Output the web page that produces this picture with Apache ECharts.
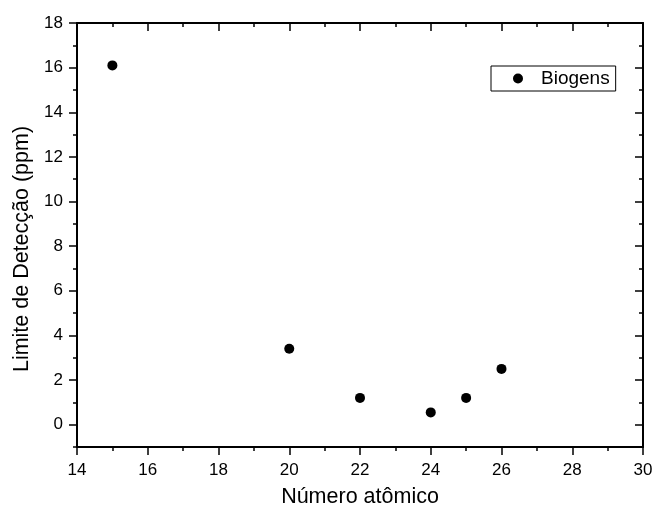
<!DOCTYPE html>
<html><head><meta charset="utf-8">
<script src="https://cdn.jsdelivr.net/npm/echarts@6/dist/echarts.min.js"></script>
<style>html,body{margin:0;padding:0;background:#fff}#c{width:655px;height:513px}</style>
</head><body><div id="c"></div>
<script>
const atomicNumbers = [15, 20, 22, 24, 25, 26];
const detectionLimits = [16.1, 3.4, 1.2, 0.55, 1.2, 2.5];
const seriesName = 'Biogens';
const xTitle = 'Número atômico';
const yTitle = 'Limite de Detecção (ppm)';
const yMajorTicks = [0, 2, 4, 6, 8, 10, 12, 14, 16, 18];
const yMinorTicks = [-1, 1, 3, 5, 7, 9, 11, 13, 15, 17];

const font = 'Liberation Sans, Arial, sans-serif';
const chart = echarts.init(document.getElementById('c'), null, {renderer: 'canvas'});
const lineStyle = {color: '#000', width: 2};
const tickStyle = {color: '#000', width: 1.5};

function yAxisDef(pos, main, inside, ticks, len) {
  return {
    type: 'value', position: pos, min: -1, max: 18, interval: 1,
    splitLine: {show: false},
    axisLine: {show: main, onZero: false, lineStyle: lineStyle},
    axisTick: {show: true, inside: inside, length: len, lineStyle: tickStyle, customValues: ticks},
    axisLabel: {show: false}
  };
}
const yAxes = [
  yAxisDef('left', true, false, yMajorTicks, 8),
  yAxisDef('right', true, true, yMajorTicks, 8),
  yAxisDef('left', false, false, yMinorTicks, 4),
  yAxisDef('right', false, true, yMinorTicks, 4)
];
yAxes[0].name = yTitle;
yAxes[0].nameLocation = 'middle';
yAxes[0].nameGap = 44;
yAxes[0].nameRotate = 90;
yAxes[0].nameTextStyle = {fontSize: 21.5, color: '#000', fontFamily: font, padding: [0, 28, 0, 0]};
yAxes[0].axisLabel = {show: true, fontSize: 17, color: '#000', margin: 14, fontFamily: font, customValues: yMajorTicks};

chart.setOption({
  animation: false,
  textStyle: {fontFamily: font},
  grid: {left: 77, right: 12, top: 23, bottom: 66, containLabel: false, outerBoundsMode: 'none'},
  legend: {
    show: true, left: 491, top: 66, orient: 'horizontal',
    borderColor: '#000', borderWidth: 1, borderRadius: 0,
    padding: [3, 6, 3, 22], itemWidth: 10, itemHeight: 10,
    textStyle: {fontSize: 19, color: '#000', fontFamily: font, padding: [0, 0, 0, 13]},
    data: [{name: seriesName, icon: 'circle', itemStyle: {color: '#000', opacity: 1}}]
  },
  xAxis: [
    {
      type: 'value', position: 'bottom', min: 14, max: 30, interval: 2,
      splitLine: {show: false},
      axisLine: {show: true, onZero: false, lineStyle: lineStyle},
      axisTick: {show: true, inside: false, length: 8, lineStyle: tickStyle},
      minorTick: {show: true, splitNumber: 2, length: 4, lineStyle: tickStyle},
      name: xTitle, nameLocation: 'middle', nameGap: 39,
      nameTextStyle: {fontSize: 21.5, color: '#000', fontFamily: font},
      axisLabel: {fontSize: 17, color: '#000', margin: 15, fontFamily: font}
    },
    {
      type: 'value', position: 'top', min: 14, max: 30, interval: 2,
      splitLine: {show: false},
      axisLine: {show: true, onZero: false, lineStyle: lineStyle},
      axisTick: {show: true, inside: true, length: 8, lineStyle: tickStyle},
      minorTick: {show: true, splitNumber: 2, length: 4, lineStyle: tickStyle},
      axisLabel: {show: false}
    }
  ],
  yAxis: yAxes,
  series: [{
    name: seriesName, type: 'scatter', xAxisIndex: 0, yAxisIndex: 0,
    symbol: 'circle', symbolSize: 10,
    itemStyle: {color: '#000', opacity: 1},
    data: atomicNumbers.map((x, i) => [x, detectionLimits[i]])
  }]
});
</script></body></html>
